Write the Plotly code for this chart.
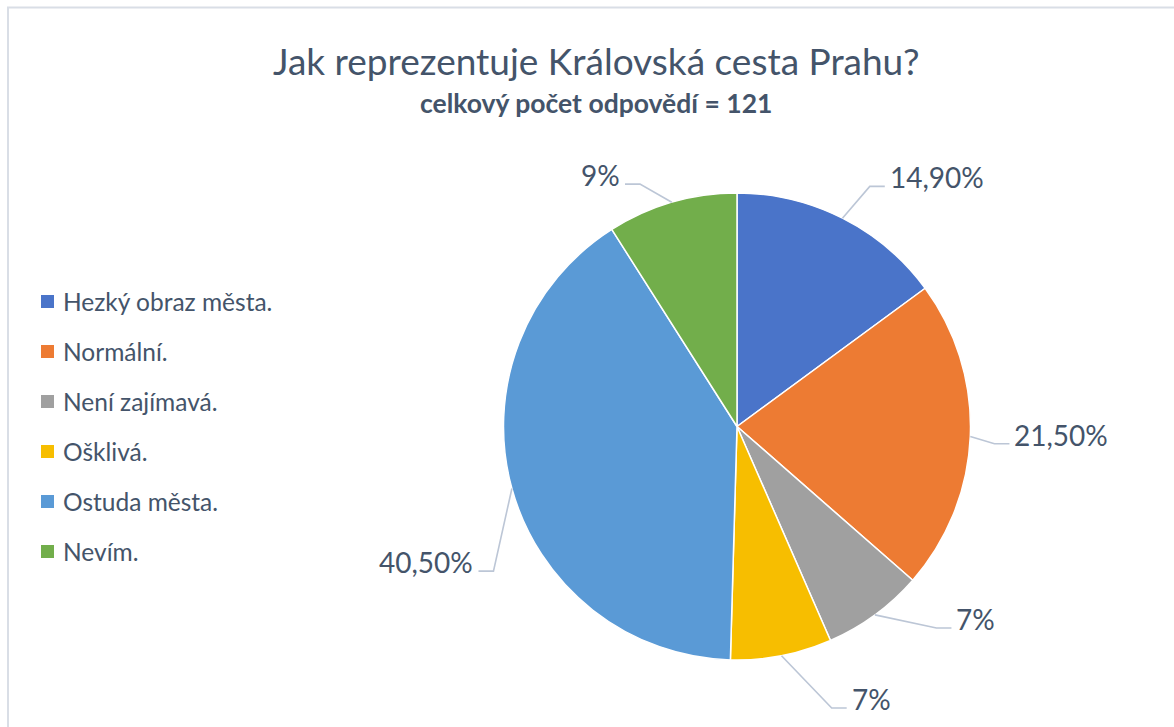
import math
import plotly.graph_objects as go

# ---------------- data ----------------
categories = ["Hezký obraz města.", "Normální.", "Není zajímavá.", "Ošklivá.", "Ostuda města.", "Nevím."]
values = [14.9, 21.5, 7, 7, 40.5, 9]
value_labels = ["14,90%", "21,50%", "7%", "7%", "40,50%", "9%"]

title_text = "Jak reprezentuje Královská cesta Prahu?"
subtitle_text = "celkový počet odpovědí = 121"

# ---------------- style ----------------
colors = ["#4A74C9", "#ED7B33", "#A0A0A0", "#F7BE00", "#5A9AD6", "#72AE4B"]
TEXT_COLOR = "#44546A"
LEADER_COLOR = "#BCC6D6"
FONT = "Lato"

W, H = 1174, 727
CX, CY, R = 737, 426.5, 233.5
# label placement (radius factor, angular shift in degrees) – mimics Excel's best-fit
LABEL_PLACEMENT = [(1.175, 2.1), (1.105, 1.4), (1.214, -8.5), (1.272, -7.6), (1.213, -15.3), (1.118, -5.6)]


def px(x):
    return x / W


def py(y):
    return 1 - y / H


fig = go.Figure()
fig.add_trace(go.Pie(
    labels=categories,
    values=values,
    sort=False,
    direction="clockwise",
    rotation=0,
    marker=dict(colors=colors, line=dict(color="white", width=1.5)),
    textinfo="none",
    hoverinfo="label+percent",
    showlegend=False,
    domain=dict(x=[px(CX - R), px(CX + R)], y=[py(CY + R), py(CY - R)]),
))

shapes = []
annotations = []

# data labels with leader lines
total = sum(values)
cum = 0.0
for v, lab, (k, shift) in zip(values, value_labels, LABEL_PLACEMENT):
    mid = (cum + v / 2) / total * 2 * math.pi
    cum += v
    ex, ey = CX + R * math.sin(mid), CY - R * math.cos(mid)
    a2 = mid + math.radians(shift)
    bx, by = CX + k * R * math.sin(a2), CY - k * R * math.cos(a2)
    right = math.sin(mid) > 0
    endx = bx + (15 if right else -15)
    shapes.append(dict(
        type="path", xref="paper", yref="paper",
        path=f"M {px(ex)} {py(ey)} L {px(bx)} {py(by)} L {px(endx)} {py(by)}",
        line=dict(color=LEADER_COLOR, width=1.6),
    ))
    annotations.append(dict(
        x=px(endx + (3 if right else -3)), y=py(by - 9), xref="paper", yref="paper",
        text=lab, showarrow=False, xanchor="left" if right else "right", yanchor="middle",
        font=dict(family=FONT, size=28, color=TEXT_COLOR),
    ))

# titles
annotations.append(dict(
    x=px(596), y=py(61), xref="paper", yref="paper", text=title_text, showarrow=False,
    xanchor="center", yanchor="middle", font=dict(family=FONT, size=37, color=TEXT_COLOR),
))
annotations.append(dict(
    x=px(596), y=py(103), xref="paper", yref="paper", text="<b>" + subtitle_text + "</b>",
    showarrow=False, xanchor="center", yanchor="middle",
    font=dict(family=FONT, size=26.5, color=TEXT_COLOR),
))

# manual legend
LEG_Y0, LEG_DY = 301.5, 50.0
for i, (cat, col) in enumerate(zip(categories, colors)):
    yc = LEG_Y0 + i * LEG_DY
    shapes.append(dict(
        type="rect", xref="paper", yref="paper",
        x0=px(41), x1=px(54), y0=py(yc + 6.5), y1=py(yc - 6.5),
        fillcolor=col, line=dict(width=0),
    ))
    annotations.append(dict(
        x=px(61), y=py(yc), xref="paper", yref="paper", text=cat, showarrow=False,
        xanchor="left", yanchor="middle", font=dict(family=FONT, size=24.5, color=TEXT_COLOR),
    ))

# chart-area border
shapes.append(dict(
    type="rect", xref="paper", yref="paper",
    x0=px(8), x1=1.02, y0=-0.02, y1=py(7.5),
    line=dict(color="#D9DEE6", width=2), fillcolor="rgba(0,0,0,0)",
))

fig.update_layout(
    width=W, height=H, autosize=False,
    margin=dict(l=0, r=0, t=0, b=0),
    paper_bgcolor="white", plot_bgcolor="white",
    shapes=shapes, annotations=annotations,
    showlegend=False,
)

fig.write_html(
    "out.html",
    config={"displayModeBar": False},
    post_script="document.body.style.margin='0';document.body.style.overflow='hidden';",
)
